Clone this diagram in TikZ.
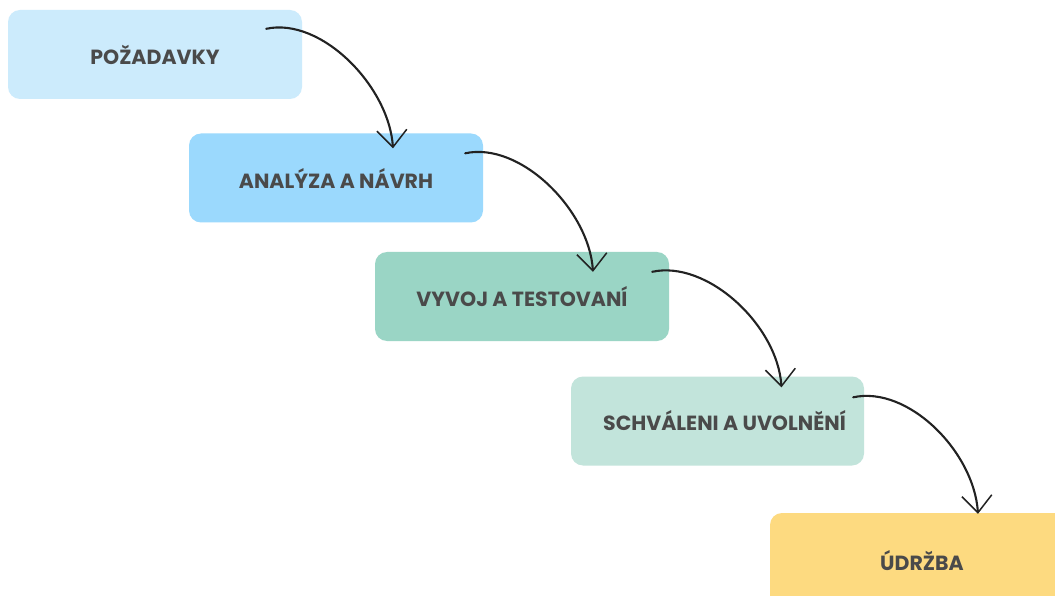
\documentclass[tikz,border=0pt]{standalone}
\usepackage{fontspec}
\setmainfont{Poppins}
\usetikzlibrary{calc,arrows.meta}

\definecolor{stageA}{RGB}{204,235,252}
\definecolor{stageB}{RGB}{155,217,253}
\definecolor{stageC}{RGB}{154,213,197}
\definecolor{stageD}{RGB}{194,228,219}
\definecolor{stageE}{RGB}{253,218,128}
\definecolor{labelgray}{RGB}{74,74,74}
\definecolor{inkline}{RGB}{34,34,34}

\tikzset{
  stagebox/.style={rounded corners=12pt, minimum width=294pt, minimum height=89pt,
    inner sep=0pt, text=labelgray, font=\fontsize{20.5}{24}\selectfont\bfseries},
  flow/.style={draw=inkline, line width=2.1pt, line cap=round,
    -{Straight Barb[length=17pt,width=30pt,line width=1.5pt]}}
}

\begin{document}
\begin{tikzpicture}[x=1pt,y=-1pt]
  \useasboundingbox (0,0) rectangle (1055,596);
  \fill[white] (0,0) rectangle (1055,596);

  \begin{scope}
    \clip (0,0) rectangle (1055,596);
    \node[stagebox, fill=stageA] (p1) at (155,54.5) {POŽADAVKY};
    \node[stagebox, fill=stageB] (p2) at (336,178) {ANALÝZA A NÁVRH};
    \node[stagebox, fill=stageC] (p3) at (522,296.5) {VYVOJ A TESTOVANÍ};
    \node[stagebox, fill=stageD, minimum width=293pt] (p4) at (717.5,421) {\hspace*{14pt}SCHVÁLENI A UVOLNĚNÍ};
    \node[stagebox, fill=stageE, minimum width=304pt, minimum height=96pt] (p5) at (922,561) {ÚDRŽBA};
  \end{scope}

  % hand-drawn style connectors between consecutive stages
  \draw[flow] ($(p1.north east)+(-36,19)$) .. controls +(55,-12) and +(-4,-62) .. ($(p2.north)+(57,15)$);
  \draw[flow] ($(p2.north east)+(-18,20)$) .. controls +(55,-12) and +(-4,-62) .. ($(p3.north)+(71,20)$);
  \draw[flow] ($(p3.north east)+(-17,20)$) .. controls +(55,-12) and +(-4,-62) .. ($(p4.north)+(64,11)$);
  \draw[flow] ($(p4.north east)+(-11,21)$) .. controls +(55,-12) and +(-4,-62) .. ($(p5.north)+(56,1)$);
\end{tikzpicture}
\end{document}
